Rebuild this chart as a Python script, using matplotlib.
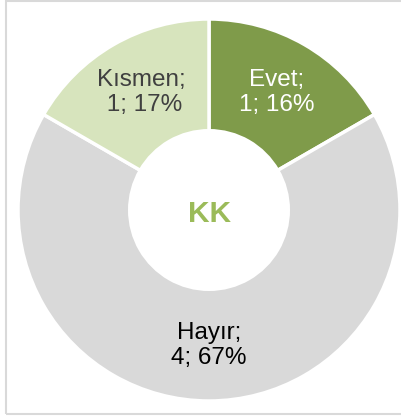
import matplotlib.pyplot as plt
import numpy as np
from matplotlib.patches import Rectangle

plt.rcParams['font.family'] = ['Liberation Sans', 'DejaVu Sans']

labels = ["Evet", "Hayır", "Kısmen"]
counts = [1, 4, 1]
pct_text = ["16%", "67%", "17%"]
colors = ["#7f9b4a", "#d9d9d9", "#d7e4bd"]
text_colors = ["white", "black", "#404040"]

fig = plt.figure(figsize=(4.01, 4.16), dpi=100)
fig.patch.set_facecolor("white")

# light grey frame around the chart area
fig.patches.append(Rectangle((5.5 / 401, 2 / 416), 1.0, 413 / 416,
                             transform=fig.transFigure, fill=False,
                             edgecolor="#d9d9d9", linewidth=1.5))

ax = fig.add_axes([18 / 401, 15 / 416, 382 / 401, 382 / 416])
wedges, _ = ax.pie(counts, colors=colors, startangle=90, counterclock=False,
                   radius=1.0,
                   wedgeprops=dict(width=0.585, edgecolor="white", linewidth=2.5))
ax.set_xlim(-1, 1)
ax.set_ylim(-1, 1)
ax.set_aspect("auto")
ax.axis("off")

# data labels at the middle of each ring segment
for w, name, n, p, tc in zip(wedges, labels, counts, pct_text, text_colors):
    ang = np.deg2rad((w.theta1 + w.theta2) / 2)
    r = 0.71
    txt = "{};\n{}; {}".format(name, n, p)
    if name == "Kısmen":
        txt = "{};\n {}; {}".format(name, n, p)
    ax.text(r * np.cos(ang), r * np.sin(ang), txt, ha="center", va="center",
            fontsize=17.5, color=tc, linespacing=1.15)

ax.text(0, -0.02, "KK", ha="center", va="center", fontsize=21.5,
        fontweight="bold", color="#9bbb59")

fig.savefig("out.png", dpi=100)
